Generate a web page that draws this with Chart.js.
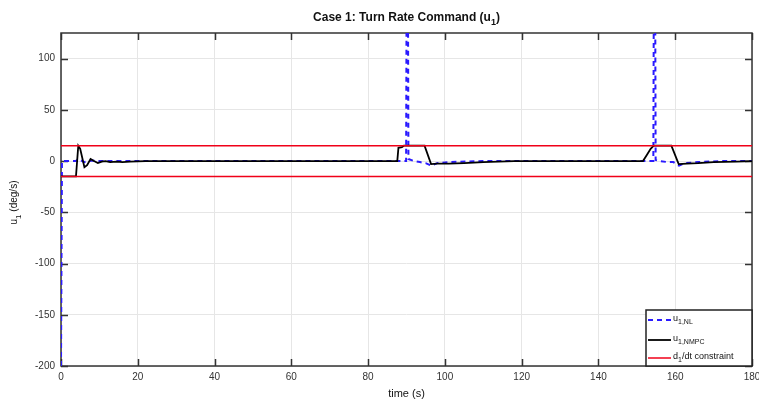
<!DOCTYPE html>
<html>
<head>
<meta charset="utf-8">
<title>Case 1: Turn Rate Command</title>
<script src="https://cdn.jsdelivr.net/npm/chart.js@4.4.0/dist/chart.umd.min.js"></script>
<style>
  html, body { margin: 0; padding: 0; background: #fff; }
</style>
</head>
<body>
<canvas id="turnChart" width="759" height="406"></canvas>
<script>
// axis ticks
const timeTicks = [0, 20, 40, 60, 80, 100, 120, 140, 160, 180];
const rateTicks = [-200, -150, -100, -50, 0, 50, 100];

// nonlinear turn rate command u1,NL (deg/s)
const nlTime  = [0, 0.25, 3.8, 4.6, 6.0, 8.0, 10, 88, 89.9, 90.2, 90.5, 92, 93.5, 95, 96.5, 98, 101, 110, 154.3, 154.6, 154.9, 156, 158, 159.5, 161, 162.5, 166, 172, 180];
const nlValue = [-200, 0, 0, 2, -1, 0.5, 0, 0, 0, 400, 2, 0, -1, -2, -4.5, -2, -1, 0, 0, 400, 1, 0, -1, -1, -4.5, -2, -1, 0, 0];

// NMPC turn rate command u1,NMPC (deg/s)
const nmpcTime  = [0, 3.9, 4.5, 5.0, 6.1, 6.8, 7.7, 8.6, 9.6, 10.6, 11.6, 12.8, 14.5, 16, 18, 22, 87.6, 87.9, 88.8, 89.3, 94.7, 96.4, 98, 101, 105, 110, 118, 151.6, 152.6, 153.6, 154.4, 159.0, 160.9, 163, 166, 170, 176, 180];
const nmpcValue = [-15, -15, 15, 12, -6, -4, 2, 0, -2, -0.5, 0, -1, -0.5, -1, -0.5, 0, 0, 13, 13.5, 15, 15, -3, -2.5, -2.5, -2, -1, 0, 0, 6, 12, 15, 15, -3, -2.5, -2, -1, -0.5, 0];

// rate constraint
const limitTime  = [0, 180];
const upperLimit = [15, 15];
const lowerLimit = [-15, -15];

const FONT = '"Liberation Sans", Arial, sans-serif';

function toPoints(xs, ys) {
    return xs.map((x, i) => ({ x: x, y: ys[i] }));
}

// draws text made of [string, isSubscript] pieces
function richWidth(ctx, parts, size, weight) {
    let w = 0;
    parts.forEach(([t, sub]) => {
        ctx.font = (weight || '') + ' ' + (sub ? Math.round(size * 0.75) : size) + 'px ' + FONT;
        w += ctx.measureText(t).width;
    });
    return w;
}
function drawRich(ctx, parts, x, y, size, weight) {
    let cx = x;
    parts.forEach(([t, sub]) => {
        const s = sub ? Math.round(size * 0.75) : size;
        ctx.font = (weight || '') + ' ' + s + 'px ' + FONT;
        ctx.fillText(t, cx, sub ? y + size * 0.35 : y);
        cx += ctx.measureText(t).width;
    });
}

// box, inward ticks, title, axis labels and legend
const framePlugin = {
    id: 'frame',
    beforeDatasetsDraw(chart) {
        const { ctx, chartArea: a, scales } = chart;
        ctx.save();
        ctx.strokeStyle = '#333';
        ctx.lineWidth = 1.5;
        ctx.beginPath();
        scales.x.ticks.forEach(t => {
            const px = Math.round(scales.x.getPixelForValue(t.value)) + 0.5;
            ctx.moveTo(px, a.bottom); ctx.lineTo(px, a.bottom - 7);
            ctx.moveTo(px, a.top); ctx.lineTo(px, a.top + 7);
        });
        scales.y.ticks.forEach(t => {
            const py = Math.round(scales.y.getPixelForValue(t.value)) + 0.5;
            ctx.moveTo(a.left, py); ctx.lineTo(a.left + 7, py);
            ctx.moveTo(a.right, py); ctx.lineTo(a.right - 7, py);
        });
        ctx.stroke();
        ctx.strokeRect(a.left, a.top, a.right - a.left, a.bottom - a.top);
        ctx.restore();
    },
    afterDraw(chart) {
        const { ctx, chartArea: a } = chart;
        const midX = (a.left + a.right) / 2;
        ctx.save();
        ctx.fillStyle = '#111';
        ctx.textBaseline = 'alphabetic';

        // title
        const title = [['Case 1: Turn Rate Command (u', false], ['1', true], [')', false]];
        const tw = richWidth(ctx, title, 12, 'bold');
        drawRich(ctx, title, midX - tw / 2, 21, 12, 'bold');

        // x axis label
        ctx.font = '11px ' + FONT;
        ctx.textAlign = 'center';
        ctx.fillText('time (s)', midX, 397);
        ctx.textAlign = 'left';

        // y axis label
        const ylab = [['u', false], ['1', true], [' (deg/s)', false]];
        const yw = richWidth(ctx, ylab, 10);
        ctx.save();
        ctx.translate(17, (a.top + a.bottom) / 2 + 3);
        ctx.rotate(-Math.PI / 2);
        drawRich(ctx, ylab, -yw / 2, 0, 10);
        ctx.restore();

        // legend
        const lx = 646, ly = 310, lw = a.right - 646, lh = a.bottom - 310;
        ctx.fillStyle = '#fff';
        ctx.fillRect(lx, ly, lw, lh);
        ctx.strokeStyle = '#222';
        ctx.lineWidth = 1.5;
        ctx.strokeRect(lx, ly, lw, lh);
        const entries = [
            { y: 320, color: '#2a1aff', dash: [5, 4], width: 2, text: [['u', false], ['1,NL', true]] },
            { y: 340, color: '#000', dash: [], width: 1.8, text: [['u', false], ['1,NMPC', true]] },
            { y: 358, color: '#f00018', dash: [], width: 1.5, text: [['d', false], ['1', true], ['/dt constraint', false]] }
        ];
        entries.forEach(e => {
            ctx.strokeStyle = e.color;
            ctx.lineWidth = e.width;
            ctx.setLineDash(e.dash);
            ctx.beginPath();
            ctx.moveTo(648, e.y); ctx.lineTo(671, e.y);
            ctx.stroke();
            ctx.setLineDash([]);
            ctx.fillStyle = '#111';
            drawRich(ctx, e.text, 673, e.y + 1, 9);
        });
        ctx.restore();
    }
};

const ctx = document.getElementById('turnChart').getContext('2d');
new Chart(ctx, {
    type: 'line',
    data: {
        datasets: [
            { label: 'du/dt constraint', data: toPoints(limitTime, upperLimit), borderColor: '#f00018', borderWidth: 1.5, order: 0 },
            { label: 'du/dt constraint (lower)', data: toPoints(limitTime, lowerLimit), borderColor: '#f00018', borderWidth: 1.5, order: 0 },
            { label: 'u1,NMPC', data: toPoints(nmpcTime, nmpcValue), borderColor: '#000', borderWidth: 1.8, order: 1 },
            { label: 'u1,NL', data: toPoints(nlTime, nlValue), borderColor: '#2a1aff', borderWidth: 2, borderDash: [5, 4], order: 2 }
        ]
    },
    options: {
        responsive: false,
        animation: false,
        events: [],
        elements: { point: { radius: 0 }, line: { tension: 0 } },
        layout: { padding: { top: 33, right: 7, left: 0, bottom: 0 } },
        plugins: { legend: { display: false }, tooltip: { enabled: false }, title: { display: false } },
        scales: {
            x: {
                type: 'linear',
                min: timeTicks[0],
                max: timeTicks[timeTicks.length - 1],
                afterBuildTicks: s => { s.ticks = timeTicks.map(v => ({ value: v })); },
                ticks: { autoSkip: false, maxRotation: 0, padding: 5, color: '#333', font: { family: FONT, size: 10 } },
                grid: { color: '#e6e6e6', drawTicks: false },
                border: { display: false },
                afterFit: s => { s.height = 40; s.paddingLeft = 0; s.paddingRight = 0; }
            },
            y: {
                type: 'linear',
                min: -200,
                max: 125,
                afterBuildTicks: s => { s.ticks = rateTicks.map(v => ({ value: v })); },
                ticks: { padding: 6, color: '#333', font: { family: FONT, size: 10 } },
                grid: { color: '#e6e6e6', drawTicks: false },
                border: { display: false },
                afterFit: s => { s.width = 61; s.paddingTop = 0; s.paddingBottom = 0; }
            }
        }
    },
    plugins: [framePlugin]
});
</script>
</body>
</html>
